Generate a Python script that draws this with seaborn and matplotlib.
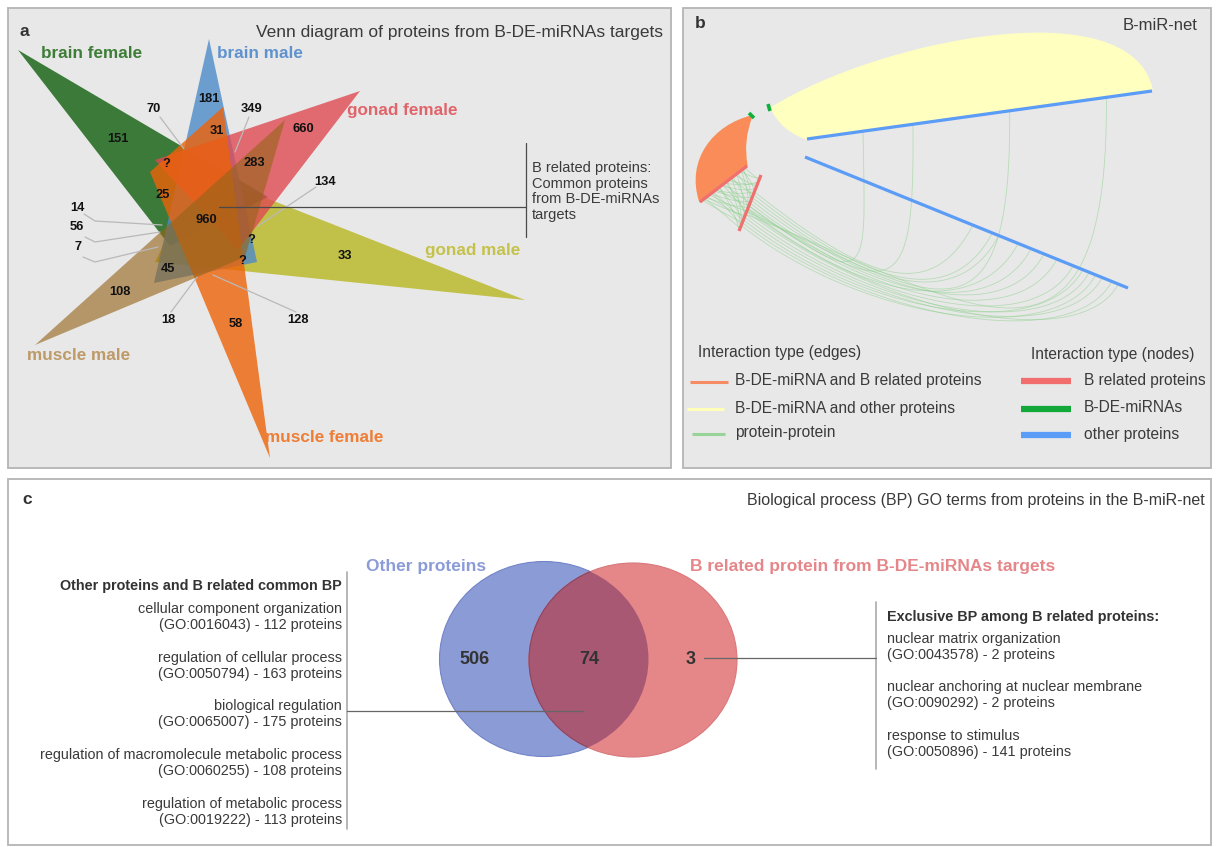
import numpy as np
import pandas as pd
import matplotlib
matplotlib.use("Agg")
import matplotlib.pyplot as plt
import seaborn as sns
from matplotlib.patches import Polygon, Rectangle, Ellipse, PathPatch
from matplotlib.path import Path

sns.set_theme(style="white")
plt.rcParams["font.family"] = ["Liberation Sans", "DejaVu Sans"]

# ------------------------------------------------------------------ data
# (a) six-set Venn of target proteins
tissue_sets = ["brain female", "brain male", "gonad female",
               "gonad male", "muscle male", "muscle female"]
region_counts = ["151", "181", "70", "349", "31", "660", "?", "283", "134",
                 "25", "960", "14", "56", "7", "?", "33", "?", "45", "108",
                 "18", "58", "128"]
common_note = "B related proteins:\nCommon proteins\nfrom B-DE-miRNAs\ntargets"

# (b) hive network legend
edge_types = ["B-DE-miRNA and B related proteins",
              "B-DE-miRNA and other proteins", "protein-protein"]
node_types = ["B related proteins", "B-DE-miRNAs", "other proteins"]

# protein-protein edges between the two B-related axes (position along each axis)
pp_red_pairs = [(0.05, 0.10), (0.10, 0.30), (0.15, 0.05), (0.20, 0.45),
                (0.25, 0.20), (0.30, 0.60), (0.35, 0.35), (0.40, 0.15),
                (0.45, 0.70), (0.50, 0.50), (0.55, 0.25), (0.60, 0.80),
                (0.65, 0.55), (0.70, 0.40), (0.75, 0.90), (0.80, 0.65),
                (0.85, 0.75), (0.90, 0.95), (0.95, 0.85), (0.12, 0.62),
                (0.33, 0.88), (0.48, 0.12), (0.58, 0.98), (0.68, 0.30),
                (0.78, 0.48), (0.88, 0.58), (0.22, 0.78), (0.42, 0.92),
                (0.52, 0.68), (0.72, 0.82), (0.92, 0.72), (0.08, 0.50)]
# protein-protein edges from B-related axis to the lower "other proteins" axis
pp_red_blue = [(0.30, 0.52), (0.40, 0.60), (0.50, 0.70), (0.55, 0.78),
               (0.62, 0.83), (0.70, 0.88), (0.75, 0.92), (0.80, 0.86),
               (0.85, 0.95), (0.60, 0.66), (0.45, 0.74), (0.90, 0.90),
               (0.35, 0.58), (0.65, 0.97)]
# protein-protein edges from the upper "other proteins" axis back to B-related axis
pp_blue_red = [(0.05, 0.55), (0.22, 0.60), (0.55, 0.65), (0.88, 0.70)]

# (c) GO biological process Venn
bp_sets = ["Other proteins", "B related protein from B-DE-miRNAs targets"]
bp_counts = [506, 74, 3]
common_bp = ["cellular component organization", "(GO:0016043) - 112 proteins",
             "regulation of cellular process", "(GO:0050794) - 163 proteins",
             "biological regulation", "(GO:0065007) - 175 proteins",
             "regulation of macromolecule metabolic process", "(GO:0060255) - 108 proteins",
             "regulation of metabolic process", "(GO:0019222) - 113 proteins"]
exclusive_bp = ["nuclear matrix organization", "(GO:0043578) - 2 proteins",
                "nuclear anchoring at nuclear membrane", "(GO:0090292) - 2 proteins",
                "response to stimulus", "(GO:0050896) - 141 proteins"]

# ------------------------------------------------------------------ canvas
W, H = 1217, 847
fig = plt.figure(figsize=(W / 100, H / 100), dpi=100)
ax = fig.add_axes([0, 0, 1, 1])
ax.set_xlim(0, W)
ax.set_ylim(H, 0)
ax.axis("off")

TXT = "#3a3a3a"
BORDER = "#b4b4b4"


def panel(x0, y0, x1, y1, face):
    ax.add_patch(Rectangle((x0, y0), x1 - x0, y1 - y0, facecolor=face,
                           edgecolor=BORDER, lw=1.3, zorder=0))


panel(8, 8, 671, 468, "#e8e8e8")
panel(683, 8, 1211, 468, "#e8e8e8")
panel(8, 479, 1211, 845, "white")

# ------------------------------------------------------------------ panel a
ax.text(20, 31, "a", fontsize=12.5, fontweight="bold", color="#333333", va="center")
ax.text(663, 32, "Venn diagram of proteins from B-DE-miRNAs targets",
        fontsize=12.5, color=TXT, ha="right", va="center")

tri_fill = {"gonad male": "#b8b620", "muscle male": "#96641a",
            "brain female": "#105f0d", "brain male": "#4d8ac9",
            "gonad female": "#de4b52", "muscle female": "#ee6208"}
tri_alpha = {"gonad male": 0.8, "muscle male": 0.62, "brain female": 0.8,
             "brain male": 0.8, "gonad female": 0.8, "muscle female": 0.8}
tri_verts = {"gonad male": [(525, 300), (200, 172), (155, 262)],
             "muscle male": [(35, 345), (285, 120), (245, 257)],
             "brain female": [(18, 50), (268, 197), (170, 246)],
             "brain male": [(209, 39), (154, 283), (257, 262)],
             "gonad female": [(360, 91), (155, 160), (238, 250)],
             "muscle female": [(270, 458), (150, 172), (223, 107)]}
for name in ["gonad male", "brain female", "brain male", "gonad female",
             "muscle female", "muscle male"]:
    ax.add_patch(Polygon(tri_verts[name], closed=True, facecolor=tri_fill[name],
                         edgecolor="none", alpha=tri_alpha[name], zorder=2))

label_col = {"brain female": "#3e7d37", "brain male": "#5f93cf",
             "gonad female": "#e0656b", "gonad male": "#c4c24a",
             "muscle male": "#bd9a68", "muscle female": "#ee7d35"}
label_pos = {"brain female": (41, 54), "brain male": (217, 53),
             "gonad female": (347, 111), "gonad male": (425, 251),
             "muscle male": (27, 355), "muscle female": (265, 438)}
for name in tissue_sets:
    x, y = label_pos[name]
    ax.text(x, y, name, fontsize=12.3, fontweight="bold", color=label_col[name],
            va="center", ha="left", zorder=5)

# leader lines for small regions
leaders = [[(160, 117), (184, 149)], [(249, 117), (235, 152)],
           [(316, 187), (258, 226)],
           [(84, 214), (95, 221), (162, 225)], [(85, 237), (95, 242), (160, 232)],
           [(83, 257), (95, 262), (158, 247)],
           [(171, 312), (197, 277)], [(296, 312), (213, 275)]]
for pts in leaders:
    xs, ys = zip(*pts)
    ax.plot(xs, ys, color="#b9b9b9", lw=0.9, zorder=3)

count_pos = [(118, 139), (209, 99), (154, 109), (252, 109), (217, 131),
             (303, 129), (166, 164), (254, 163), (325, 182), (163, 195),
             (206, 220), (77, 208), (77, 227), (78, 247), (251, 240),
             (345, 256), (242, 261), (168, 269), (120, 292), (168, 320),
             (236, 324), (298, 320)]
for txt, (x, y) in zip(region_counts, count_pos):
    ax.text(x, y, txt, fontsize=9.3, fontweight="bold", color="#111111",
            ha="center", va="center", zorder=6)

ax.plot([219, 526], [207, 207], color="#4a4a4a", lw=0.9, zorder=6)
ax.plot([526, 526], [143, 237], color="#4a4a4a", lw=0.9, zorder=6)
ax.text(532, 161, common_note, fontsize=10.5, color=TXT, va="top", ha="left",
        linespacing=1.15)

# ------------------------------------------------------------------ panel b
ax.text(695, 23, "b", fontsize=12.5, fontweight="bold", color="#333333", va="center")
ax.text(1198, 25, "B-miR-net", fontsize=12, color=TXT, ha="right", va="center")

# hive axes (pixel end points)
red1 = np.array([(747, 166), (700, 202)], float)
red2 = np.array([(761, 175), (739, 231)], float)
blue1 = np.array([(807, 139), (1152, 91)], float)
blue2 = np.array([(805, 157), (1128, 288)], float)


def along(axis, f):
    return axis[0] + f * (axis[1] - axis[0])


def cubic(p0, p1, p2, p3, n=50):
    t = np.linspace(0, 1, n)[:, None]
    return ((1 - t) ** 3) * p0 + 3 * ((1 - t) ** 2) * t * p1 + \
        3 * (1 - t) * t ** 2 * p2 + t ** 3 * p3


# miRNA -> other proteins bundle (yellow) and miRNA -> B related bundle (orange)
yellow = Path([(771, 108), (880, 40), (1130, -10), (1152, 89),
               (807, 139), (782, 131), (771, 108), (771, 108)],
              [Path.MOVETO, Path.CURVE4, Path.CURVE4, Path.CURVE4,
               Path.LINETO, Path.CURVE3, Path.CURVE3, Path.CLOSEPOLY])
ax.add_patch(PathPatch(yellow, facecolor="#ffffc0", edgecolor="#ffffc0", lw=1, zorder=2))
orange = Path([(752, 116), (714, 125), (686, 160), (700, 202),
               (747, 166), (742, 140), (752, 116), (752, 116)],
              [Path.MOVETO, Path.CURVE4, Path.CURVE4, Path.CURVE4,
               Path.LINETO, Path.CURVE3, Path.CURVE3, Path.CLOSEPOLY])
ax.add_patch(PathPatch(orange, facecolor="#f98c58", edgecolor="#f98c58", lw=1, zorder=2))

# protein-protein edges collected into one long table, drawn with seaborn
rows = []
eid = 0
for a, b in pp_red_pairs:
    p0, p3 = along(red1, a), along(red2, b)
    mid = (p0 + p3) / 2 + np.array([4, 3])
    pts = cubic(p0, mid, mid, p3, 20)
    rows += [(eid, x, y) for x, y in pts]
    eid += 1
for a, b in pp_red_blue:
    p0, p3 = along(red2, a), along(blue2, b)
    pts = cubic(p0, p0 + np.array([120, 95]), p3 + np.array([-40, 75]), p3)
    rows += [(eid, x, y) for x, y in pts]
    eid += 1
for a, b in pp_blue_red:
    p0, p3 = along(blue1, 0.12 + 0.85 * a), along(red2, b)
    drop = 140 + 200 * a
    pts = cubic(p0, p0 + np.array([2, drop]), p3 + np.array([120 + 120 * a, 90]), p3)
    rows += [(eid, x, y) for x, y in pts]
    eid += 1
edges = pd.DataFrame(rows, columns=["edge", "x", "y"])
sns.lineplot(data=edges, x="x", y="y", units="edge", estimator=None, sort=False,
             color="#8fd18f", lw=0.6, alpha=0.55, ax=ax, zorder=3, legend=False)
ax.set_xlim(0, W)
ax.set_ylim(H, 0)
ax.axis("off")

for axis in (blue1, blue2):
    ax.plot(axis[:, 0], axis[:, 1], color="#5b9cf6", lw=2.3, solid_capstyle="butt", zorder=4)
for axis in (red1, red2):
    ax.plot(axis[:, 0], axis[:, 1], color="#f07070", lw=2.3, solid_capstyle="butt", zorder=4)
for seg in ([(768, 104), (770, 111)], [(749, 113), (754, 118)]):
    xs, ys = zip(*seg)
    ax.plot(xs, ys, color="#10b03c", lw=2.6, solid_capstyle="butt", zorder=5)

# legend
ax.text(698, 353, "Interaction type (edges)", fontsize=11.2, color=TXT, va="center")
ax.text(1031, 354, "Interaction type (nodes)", fontsize=11.2, color=TXT, va="center")
edge_cols = ["#f58c64", "#ffffb8", "#98d498"]
edge_x = [(690, 728), (687, 724), (692, 725)]
edge_y = [382, 409, 434]
for lab, c, (xa, xb), y in zip(edge_types, edge_cols, edge_x, edge_y):
    ax.plot([xa, xb], [y, y], color=c, lw=2.2, solid_capstyle="butt")
    ax.text(735, y - 1, lab, fontsize=11.2, color=TXT, va="center")
node_cols = ["#f26d6d", "#12a83a", "#5b9cf6"]
node_y = [381, 409, 435]
for lab, c, y in zip(node_types, node_cols, node_y):
    ax.plot([1021, 1071], [y, y], color=c, lw=4.5, solid_capstyle="butt")
    ax.text(1084, y - 1, lab, fontsize=11.2, color=TXT, va="center")

# ------------------------------------------------------------------ panel c
ax.text(22, 499, "c", fontsize=12.5, fontweight="bold", color="#333333", va="center")
ax.text(1205, 500, "Biological process (BP) GO terms from proteins in the B-miR-net",
        fontsize=11.5, color=TXT, ha="right", va="center")

left = Ellipse((544, 659), 209, 195, facecolor="#8a9bd5", edgecolor="#7384c8", lw=0.8, zorder=2)
right = Ellipse((633, 660), 208, 194, facecolor="#e58788", edgecolor="#d9787a", lw=0.8, zorder=3)
ax.add_patch(left)
ax.add_patch(right)
both = Ellipse((633, 660), 208, 194, facecolor="#a95874", edgecolor="#8a4562", lw=0.8, zorder=4)
ax.add_patch(both)
clip = Ellipse((544, 659), 209, 195, transform=ax.transData)
both.set_clip_path(clip)

for val, x in zip(bp_counts, [474, 589, 691]):
    ax.text(x, 660, str(val), fontsize=13, fontweight="bold", color="#333333",
            ha="center", va="center", zorder=6)
ax.text(366, 566, bp_sets[0], fontsize=12.5, fontweight="bold", color="#8a9bd8", va="center")
ax.text(690, 567, bp_sets[1], fontsize=12.5, fontweight="bold", color="#e5878a", va="center")

# connectors
ax.plot([347, 347], [572, 829], color="#aaaaaa", lw=1.2, zorder=5)
ax.plot([347, 583], [711, 711], color="#666666", lw=0.9, zorder=6)
ax.plot([876, 876], [602, 769], color="#aaaaaa", lw=1.2, zorder=5)
ax.plot([704, 876], [658, 658], color="#666666", lw=0.9, zorder=6)

ax.text(342, 586, "Other proteins and B related common BP", fontsize=10.4,
        fontweight="bold", color="#333333", ha="right", va="center")
for i, line in enumerate(common_bp):
    y = 609 + (i // 2) * 48.7 + (i % 2) * 16
    ax.text(342, y, line, fontsize=10.4, color=TXT, ha="right", va="center")

ax.text(887, 617, "Exclusive BP among B related proteins:", fontsize=10.4,
        fontweight="bold", color="#333333", ha="left", va="center")
for i, line in enumerate(exclusive_bp):
    y = 639 + (i // 2) * 48.5 + (i % 2) * 16
    ax.text(887, y, line, fontsize=10.4, color=TXT, ha="left", va="center")

fig.savefig("out.png", dpi=100, facecolor="white")
